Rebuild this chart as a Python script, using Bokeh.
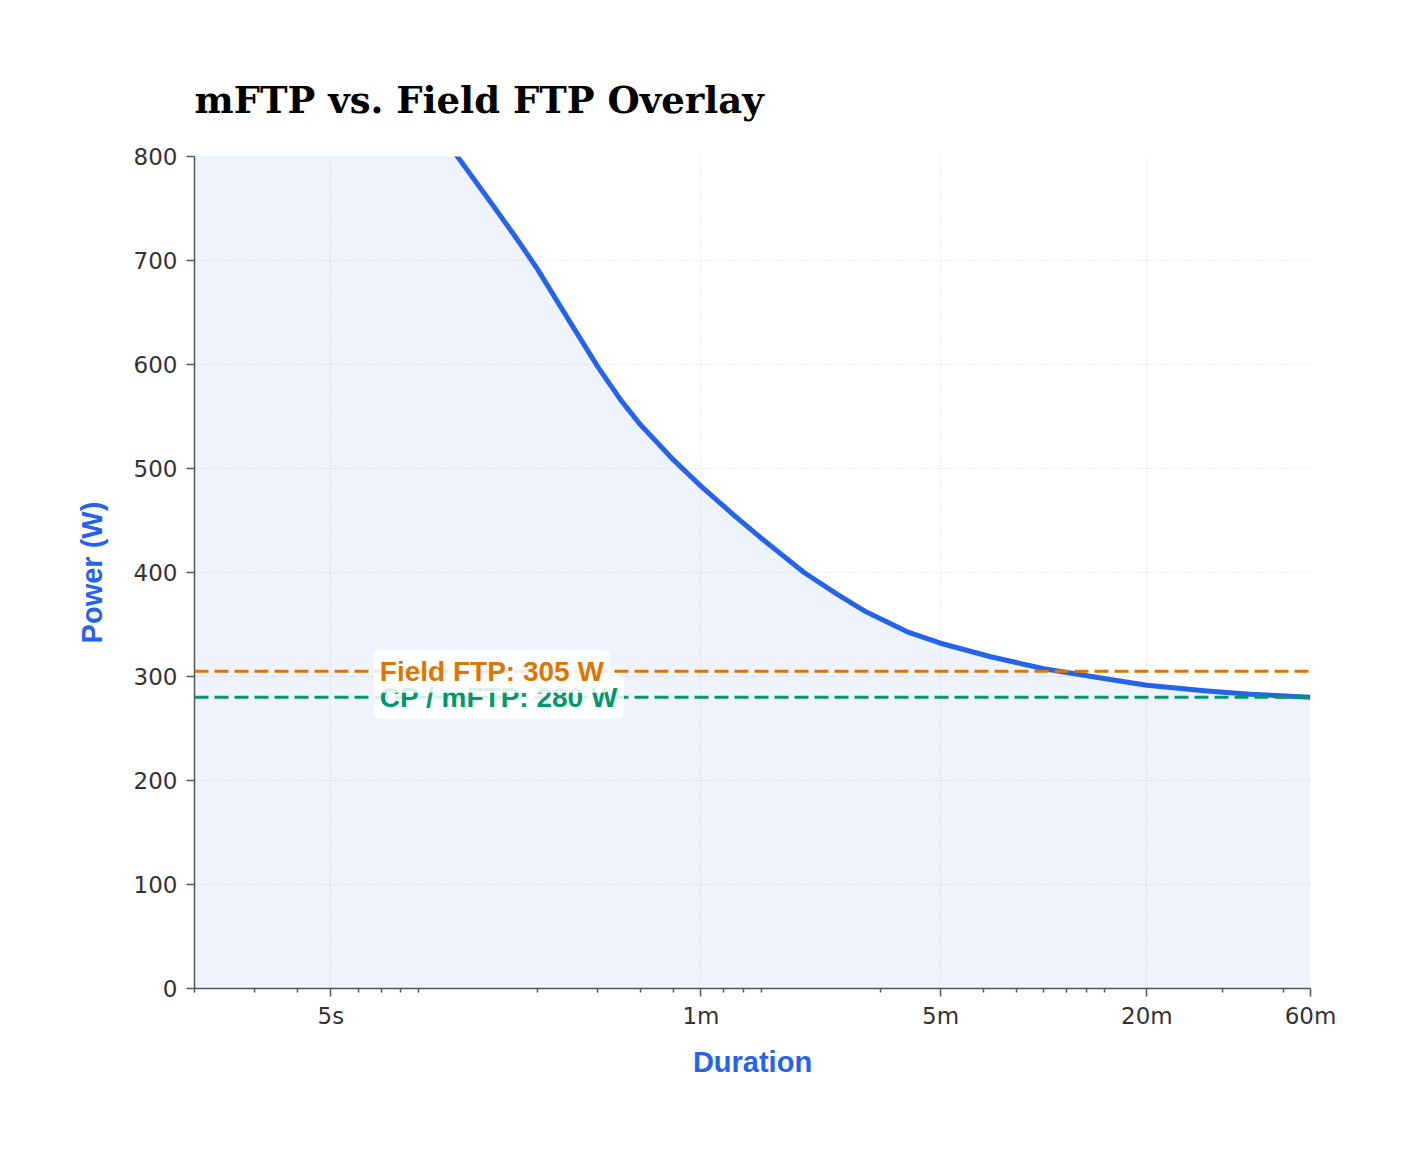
from bokeh.plotting import figure
from bokeh.models import FixedTicker, Label, Span, Range1d
from bokeh.embed import file_html
from bokeh.resources import INLINE

# Power-duration curve (seconds -> watts)
durations_s = [2, 5, 10, 12, 15, 17.5, 20, 25, 30, 35, 40, 50, 60, 75, 90, 120,
               150, 180, 240, 300, 420, 600, 900, 1200, 1800, 2400, 3600]
power_w = [1180, 990, 830, 795, 751, 720, 692, 640, 598, 566, 542, 508, 483, 455,
           433, 400, 379, 363, 343, 332, 319, 307.5, 298, 291.5, 286, 283, 280]

# Threshold references
field_ftp_w = 305
cp_mftp_w = 280

# Duration axis ticks
major_ticks = [5, 60, 300, 1200, 3600]
major_labels = ["5s", "1m", "5m", "20m", "60m"]
minor_ticks = [2, 3, 4, 6, 7, 8, 9, 20, 30, 40, 50, 70, 80, 90,
               200, 400, 500, 600, 700, 800, 900, 2000, 3000]
power_ticks = [0, 100, 200, 300, 400, 500, 600, 700, 800]

BLUE = "#2563eb"
ORANGE = "#d97706"
GREEN = "#059669"
AXIS = "#555555"

p = figure(
    width=1419, height=1158,
    x_axis_type="log",
    x_range=Range1d(2, 3600), y_range=Range1d(0, 800),
    output_backend="svg", toolbar_location=None,
    min_border_left=194, min_border_right=109,
    min_border_top=156, min_border_bottom=170,
    title="mFTP vs. Field FTP Overlay",
)
p.outline_line_color = None
p.background_fill_color = "white"
p.border_fill_color = "white"

p.title.text_font = "DejaVu Serif"
p.title.text_font_size = "37px"
p.title.text_font_style = "bold"
p.title.text_color = "#000000"
p.title.align = "left"
p.title.standoff = 69

# Area under the curve and the curve itself
p.varea(x=durations_s, y1=0, y2=power_w, fill_color=BLUE, fill_alpha=0.08)
p.line(durations_s, power_w, line_color=BLUE, line_width=5, line_join="round")

# Reference lines
p.add_layout(Span(location=field_ftp_w, dimension="width", line_color=ORANGE,
                  line_width=3, line_dash="14 6"))
p.add_layout(Span(location=cp_mftp_w, dimension="width", line_color=GREEN,
                  line_width=3, line_dash="14 6"))

label_style = dict(
    text_font="Liberation Sans", text_font_size="28px", text_font_style="bold",
    text_baseline="middle", text_align="left",
    background_fill_color="white", background_fill_alpha=0.85,
    padding=6, border_radius=6,
)
p.add_layout(Label(x=6.67, y=cp_mftp_w, text=f"CP / mFTP: {cp_mftp_w} W",
                   text_color=GREEN, **label_style))
p.add_layout(Label(x=6.67, y=field_ftp_w, text=f"Field FTP: {field_ftp_w} W",
                   text_color=ORANGE, **label_style))

# Axes
p.xaxis.ticker = FixedTicker(ticks=major_ticks, minor_ticks=minor_ticks)
p.xaxis.major_label_overrides = {t: l for t, l in zip(major_ticks, major_labels)}
p.yaxis.ticker = FixedTicker(ticks=power_ticks)

for ax in (p.xaxis, p.yaxis):
    ax.axis_line_color = AXIS
    ax.axis_line_width = 1.5
    ax.major_tick_line_color = AXIS
    ax.major_tick_line_width = 1.5
    ax.major_tick_out = 8
    ax.major_tick_in = 0
    ax.major_label_text_font = "DejaVu Sans"
    ax.major_label_text_font_size = "23px"
    ax.major_label_text_color = "#333333"
    ax.axis_label_text_font = "Liberation Sans"
    ax.axis_label_text_font_size = "29px"
    ax.axis_label_text_font_style = "bold"
    ax.axis_label_text_color = BLUE

p.xaxis.minor_tick_line_color = AXIS
p.xaxis.minor_tick_line_width = 1.5
p.xaxis.minor_tick_out = 4
p.xaxis.minor_tick_in = 0
p.yaxis.minor_tick_line_color = None

p.xaxis.axis_label = "Duration"
p.yaxis.axis_label = "Power (W)"
p.xaxis.major_label_standoff = 6
p.yaxis.major_label_standoff = 9
p.xaxis.axis_label_standoff = 14
p.yaxis.axis_label_standoff = 23

# Grid
p.xgrid.ticker = FixedTicker(ticks=major_ticks)
p.ygrid.ticker = FixedTicker(ticks=power_ticks)
for g in (p.xgrid, p.ygrid):
    g.grid_line_color = "#d9d9d9"
    g.grid_line_dash = "1 2"
    g.grid_line_width = 1

open("out.html", "w").write(file_html(p, INLINE))
